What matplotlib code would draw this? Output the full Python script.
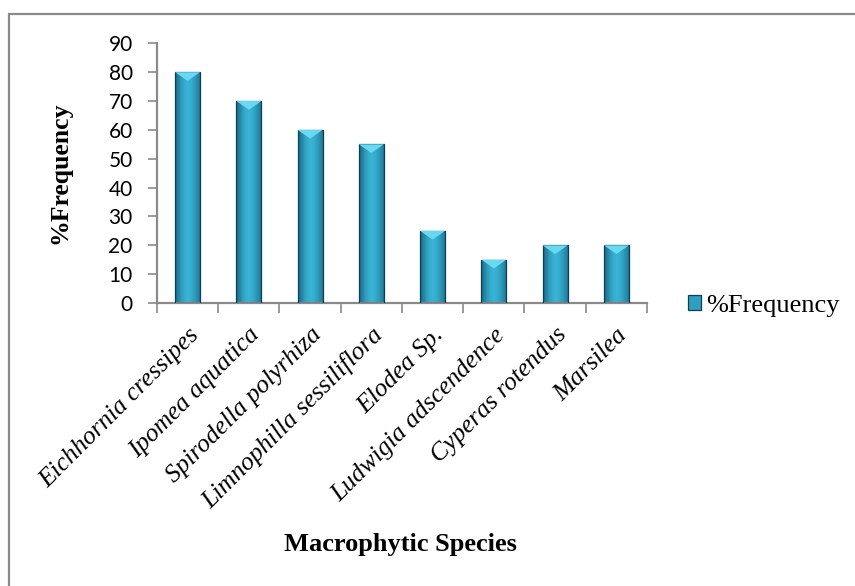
import matplotlib.pyplot as plt
import numpy as np
from matplotlib.patches import Rectangle
from matplotlib.colors import LinearSegmentedColormap

species = [
    "Eichhornia cressipes",
    "Ipomea aquatica",
    "Spirodella polyrhiza",
    "Limnophilla sessiliflora",
    "Elodea Sp.",
    "Ludwigia adscendence",
    "Cyperas rotendus",
    "Marsilea",
]
frequency = [80, 70, 60, 55, 25, 15, 20, 20]
y_ticks = [0, 10, 20, 30, 40, 50, 60, 70, 80, 90]

fig = plt.figure(figsize=(8.55, 5.86), dpi=100)
ax = fig.add_axes([0.1836, 0.4829, 0.5731, 0.4432])

# outer chart border (right and bottom edges fall outside the picture)
fig.patches.append(Rectangle((9 / 855, -0.05), 1.0, 1 - 14 / 586 + 0.05,
                             transform=fig.transFigure, fill=False,
                             edgecolor="#8a8a8a", linewidth=1.6))

x = np.arange(len(species))
bars = ax.bar(x, frequency, width=0.41, color="none", edgecolor="#123f50",
              linewidth=0.9, zorder=3)

# cylinder-like shading and light cap on each bar
bar_cmap = LinearSegmentedColormap.from_list("bar", ["#1c7391", "#3ab4d6"])
shade = np.array([0.0, 0.35, 0.7, 0.9, 1.0, 0.9, 0.7, 0.45, 0.15])[None, :]
for b in bars:
    x0, w, h = b.get_x(), b.get_width(), b.get_height()
    im = ax.imshow(shade, extent=[x0, x0 + w, 0, h], aspect="auto",
                   cmap=bar_cmap, zorder=2.5)
    im.set_clip_path(b)
    cx = x0 + w / 2
    ax.fill([x0, x0 + w, cx], [h, h, h - 3.0], color="#68d9f2", zorder=4,
            linewidth=0)

ax.set_xlim(-0.5, len(species) - 0.5)
ax.set_ylim(0, 90)
ax.set_yticks(y_ticks)
ax.set_xticks(np.arange(len(species) + 1) - 0.5)
ax.set_xticklabels([])
ax.set_xticks(x, minor=True)
ax.set_xticklabels(species, minor=True, rotation=45, ha="right", va="top",
                   rotation_mode="anchor", family="Liberation Serif",
                   style="italic", fontsize=18.5)
ax.tick_params(axis="x", which="minor", length=0, pad=15)
ax.tick_params(axis="x", which="major", length=7, width=1.2, color="#8a8a8a")
ax.tick_params(axis="y", length=6.5, width=1.2, color="#8a8a8a", labelsize=15, pad=11)
for lbl in ax.get_yticklabels():
    lbl.set_family("Lato")

for s in ["top", "right"]:
    ax.spines[s].set_visible(False)
for s in ["left", "bottom"]:
    ax.spines[s].set_color("#8a8a8a")
    ax.spines[s].set_linewidth(1.6)

# nudge rotated labels so their end sits just right of each bar centre
for lbl in ax.get_xticklabels(minor=True):
    lbl.set_x(lbl.get_position()[0] + 0.04)

ax.set_ylabel("%Frequency", family="Liberation Serif", fontweight="bold", fontsize=18.5)
ax.yaxis.set_label_coords(-0.175, 0.5)
fig.text(400 / 855, 1 - 545 / 586, "Macrophytic Species", family="Liberation Serif",
         fontweight="bold", fontsize=19, ha="center", va="center")

handle = Rectangle((0, 0), 1, 1, facecolor="#2e9fc0", edgecolor="#123f50", linewidth=0.9)
ax.legend([handle], ["%Frequency"], loc="center left", bbox_to_anchor=(1.035, -0.01),
          frameon=False, prop={"family": "Liberation Serif", "size": 19},
          handlelength=0.5, handleheight=0.5, handletextpad=0.2)

fig.savefig("out.png", dpi=100)
